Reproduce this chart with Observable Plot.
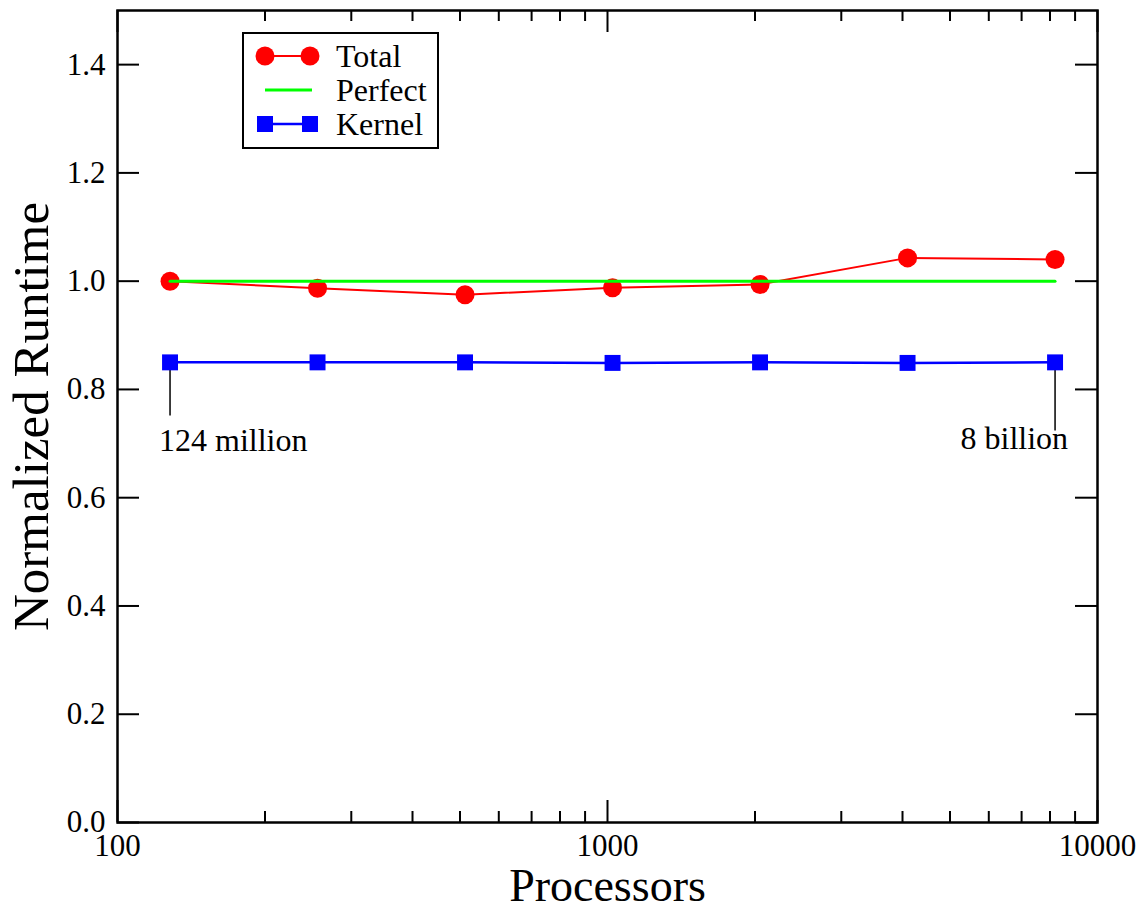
<!DOCTYPE html>
<html>
<head>
<meta charset="utf-8">
<script src="https://cdn.jsdelivr.net/npm/d3@7"></script>
<script src="https://cdn.jsdelivr.net/npm/@observablehq/plot@0.6"></script>
<style>
  body { margin: 0; background: #ffffff; }
  #chart svg { display: block; }
</style>
</head>
<body>
<div id="chart"></div>
<script>
// ---- data ----
const processors     = [128, 256, 512, 1024, 2048, 4096, 8192];
const totalRuntime   = [1.000, 0.987, 0.975, 0.988, 0.994, 1.043, 1.040];
const kernelRuntime  = [0.850, 0.850, 0.850, 0.849, 0.850, 0.849, 0.850];
const perfectRuntime = [1, 1, 1, 1, 1, 1, 1];

const seriesNames  = ["Total", "Perfect", "Kernel"];
const seriesColors = ["#ff0000", "#00ff00", "#0000ff"];

const xMajorTicks = [100, 1000, 10000];
const xMinorTicks = [200, 300, 400, 500, 600, 700, 800, 900, 2000, 3000, 4000, 5000, 6000, 7000, 8000, 9000];
const yTicks      = [0, 0.2, 0.4, 0.6, 0.8, 1.0, 1.2, 1.4];

const annLabels  = ["124 million", "8 billion"];
const annProcs   = [128, 8192];
const annFrom    = [0.85, 0.85];
const annTo      = [0.751, 0.723];
const annTextY   = [0.686, 0.690];
const annAnchor  = ["start", "end"];

const xLabel = "Processors";
const yLabel = "Normalized Runtime";

// ---- tables built from the arrays ----
const rows = processors.map((p, i) => ({
  p, total: totalRuntime[i], kernel: kernelRuntime[i], perfect: perfectRuntime[i]
}));
const ann = annLabels.map((t, i) => ({
  t, p: annProcs[i], y1: annFrom[i], y2: annTo[i], ty: annTextY[i], anchor: annAnchor[i]
}));

const xMin = 100, xMax = 10000, yMin = 0, yMax = 1.5;
const FONT = "'Liberation Serif', 'Times New Roman', serif";
const TICK_FS = 31;

const chart = Plot.plot({
  width: 1143,
  height: 907,
  marginLeft: 117,
  marginRight: 46,
  marginTop: 10,
  marginBottom: 85,
  x: { type: "log", domain: [xMin, xMax] },
  y: { domain: [yMin, yMax] },
  style: { fontFamily: FONT, fontSize: "28px", background: "#ffffff", color: "#000000" },
  marks: [
    // inward ticks: left & right (y), bottom & top (x)
    Plot.ruleY(yTicks, { y: d => d, x1: xMin, x2: xMin, insetRight: -22, stroke: "#000", strokeWidth: 2 }),
    Plot.ruleY(yTicks, { y: d => d, x1: xMax, x2: xMax, insetLeft: -22, stroke: "#000", strokeWidth: 2 }),
    Plot.ruleX(xMajorTicks, { x: d => d, y1: yMin, y2: yMin, insetTop: -22, stroke: "#000", strokeWidth: 2 }),
    Plot.ruleX(xMinorTicks, { x: d => d, y1: yMin, y2: yMin, insetTop: -11, stroke: "#000", strokeWidth: 2 }),
    Plot.ruleX(xMajorTicks, { x: d => d, y1: yMax, y2: yMax, insetBottom: -22, stroke: "#000", strokeWidth: 2 }),
    Plot.ruleX(xMinorTicks, { x: d => d, y1: yMax, y2: yMax, insetBottom: -11, stroke: "#000", strokeWidth: 2 }),

    // tick labels
    Plot.axisY({ ticks: yTicks, tickSize: 0, tickPadding: 12, tickFormat: d3.format(".1f"), label: null, fontSize: TICK_FS }),
    Plot.axisX({ ticks: xMajorTicks, tickSize: 0, tickPadding: 11, tickFormat: d3.format("d"), label: null, fontSize: TICK_FS }),

    // annotations
    Plot.ruleX(ann, { x: "p", y1: "y1", y2: "y2", stroke: "#000", strokeWidth: 1.5 }),
    Plot.text(ann.filter(d => d.anchor === "start"), { x: "p", y: "ty", text: "t", textAnchor: "start", lineAnchor: "bottom", dx: -11, fontSize: 32 }),
    Plot.text(ann.filter(d => d.anchor === "end"), { x: "p", y: "ty", text: "t", textAnchor: "end", lineAnchor: "bottom", dx: 13, fontSize: 32 }),

    // Total
    Plot.line(rows, { x: "p", y: "total", stroke: seriesColors[0], strokeWidth: 2 }),
    Plot.dot(rows, { x: "p", y: "total", r: 9.5, fill: seriesColors[0], stroke: "none" }),
    // Perfect
    Plot.line(rows, { x: "p", y: "perfect", stroke: seriesColors[1], strokeWidth: 3 }),
    // Kernel
    Plot.line(rows, { x: "p", y: "kernel", stroke: seriesColors[2], strokeWidth: 2.5 }),
    Plot.dot(rows, { x: "p", y: "kernel", symbol: "square", r: 9, fill: seriesColors[2], stroke: "none" }),

    // axis titles
    Plot.text([xLabel], { frameAnchor: "bottom", textAnchor: "middle", lineAnchor: "bottom", dy: 78, fontSize: 46 }),
    Plot.text([yLabel], { frameAnchor: "left", textAnchor: "middle", lineAnchor: "middle", rotate: -90, dx: -86, fontSize: 51 }),

    Plot.frame({ stroke: "#000", strokeWidth: 2.5 })
  ]
});

// make sure tick-label font size is applied
const svg = d3.select(chart);
svg.selectAll("g[aria-label='y-axis tick label'], g[aria-label='x-axis tick label']")
  .attr("font-size", TICK_FS).style("font-size", TICK_FS + "px").attr("font-family", FONT);

// ---- legend (inside the plot area, top-left) ----
const lg = svg.append("g").attr("font-family", FONT).attr("font-size", 32).attr("text-anchor", "start");
lg.append("rect").attr("x", 243).attr("y", 33).attr("width", 195).attr("height", 115)
  .attr("fill", "#fff").attr("stroke", "#000").attr("stroke-width", 2);
const rowY = [56, 90, 124];
seriesNames.forEach((name, i) => {
  const y = rowY[i], c = seriesColors[i];
  if (i === 1) {
    lg.append("line").attr("x1", 265).attr("x2", 312).attr("y1", y).attr("y2", y).attr("stroke", c).attr("stroke-width", 3);
  } else {
    lg.append("line").attr("x1", 265).attr("x2", 310).attr("y1", y).attr("y2", y).attr("stroke", c).attr("stroke-width", i === 0 ? 2 : 2.5);
    [265, 310].forEach(x => {
      if (i === 0) lg.append("circle").attr("cx", x).attr("cy", y).attr("r", 9.5).attr("fill", c);
      else lg.append("rect").attr("x", x - 8).attr("y", y - 8).attr("width", 16).attr("height", 16).attr("fill", c);
    });
  }
  lg.append("text").attr("x", 336).attr("y", y).attr("dy", "0.34em").attr("text-anchor", "start").attr("fill", "#000").text(name);
});

document.getElementById("chart").append(chart);
</script>
</body>
</html>
